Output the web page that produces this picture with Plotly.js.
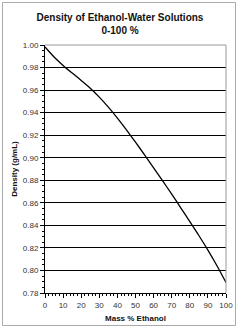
<!DOCTYPE html>
<html>
<head>
<meta charset="utf-8">
<script src="https://cdn.plot.ly/plotly-3.0.1.min.js"></script>
<style>html,body{margin:0;padding:0;background:#fff;}#chart{width:240px;height:328px;}</style>
</head>
<body>
<div id="chart"></div>
<script>
const massPercent = [0, 5, 10, 15, 20, 25, 30, 35, 40, 45, 50, 55, 60, 65, 70, 75, 80, 85, 90, 95, 100];
const density = [0.9982, 0.9894, 0.9819, 0.9751, 0.9686, 0.9617, 0.9538, 0.9449, 0.9352, 0.9247, 0.9138,
                 0.9026, 0.8911, 0.8795, 0.8677, 0.8556, 0.8434, 0.8310, 0.8180, 0.8042, 0.7893];
const titleLines = ["Density of Ethanol-Water Solutions", "0-100 %"];
const xTitle = "Mass % Ethanol";
const yTitle = "Density (g/mL)";

const font = "Arial, 'Liberation Sans', sans-serif";
Plotly.newPlot("chart", [{
  x: massPercent, y: density, type: "scatter", mode: "lines",
  line: {color: "#000", width: 1.3, shape: "spline", smoothing: 0.8}, hoverinfo: "skip"
}], {
  width: 240, height: 328,
  margin: {l: 45, r: 14, t: 45, b: 35},
  paper_bgcolor: "#fff", plot_bgcolor: "#fff",
  showlegend: false,
  font: {family: font, color: "#222"},
  title: {text: "<b>" + titleLines.join("<br>") + "</b>", x: 0.5, xanchor: "center", y: 0.937, yanchor: "top",
          font: {family: font, size: 10, color: "#111"}},
  xaxis: {
    range: [0, 100], tickmode: "linear", tick0: 0, dtick: 10,
    showgrid: false, zeroline: false, showline: true, linecolor: "#000", linewidth: 1,
    ticks: "outside", ticklen: 4, tickcolor: "#000", tickwidth: 1,
    minor: {dtick: 2, ticks: "outside", ticklen: 2, tickcolor: "#000", showgrid: false},
    tickfont: {family: font, size: 8, color: "#333"},
    title: {text: "<b>" + xTitle + "</b>", font: {family: font, size: 8, color: "#111"}, standoff: 6}
  },
  yaxis: {
    range: [0.78, 1.00], tickmode: "linear", tick0: 0.78, dtick: 0.02, tickformat: ".2f",
    showgrid: true, gridcolor: "#000", gridwidth: 1, zeroline: false,
    showline: true, linecolor: "#000", linewidth: 1,
    ticks: "outside", ticklen: 4, tickcolor: "#000", tickwidth: 1,
    minor: {dtick: 0.005, ticks: "outside", ticklen: 2, tickcolor: "#000", showgrid: false},
    tickfont: {family: font, size: 8, color: "#333"},
    title: {text: "<b>" + yTitle + "</b>", font: {family: font, size: 8, color: "#111"}, standoff: 4}
  },
  shapes: [
    {type: "path", xref: "paper", yref: "paper", path: "M0,1 L1,1 L1,0", line: {color: "#999", width: 1}, layer: "above"},
    {type: "rect", xref: "paper", yref: "paper", x0: -0.2348, x1: 1.0525, y0: -0.131, y1: 1.1714,
     line: {color: "#aaa", width: 1}, layer: "below"}
  ]
}, {staticPlot: true, displayModeBar: false});
</script>
</body>
</html>
